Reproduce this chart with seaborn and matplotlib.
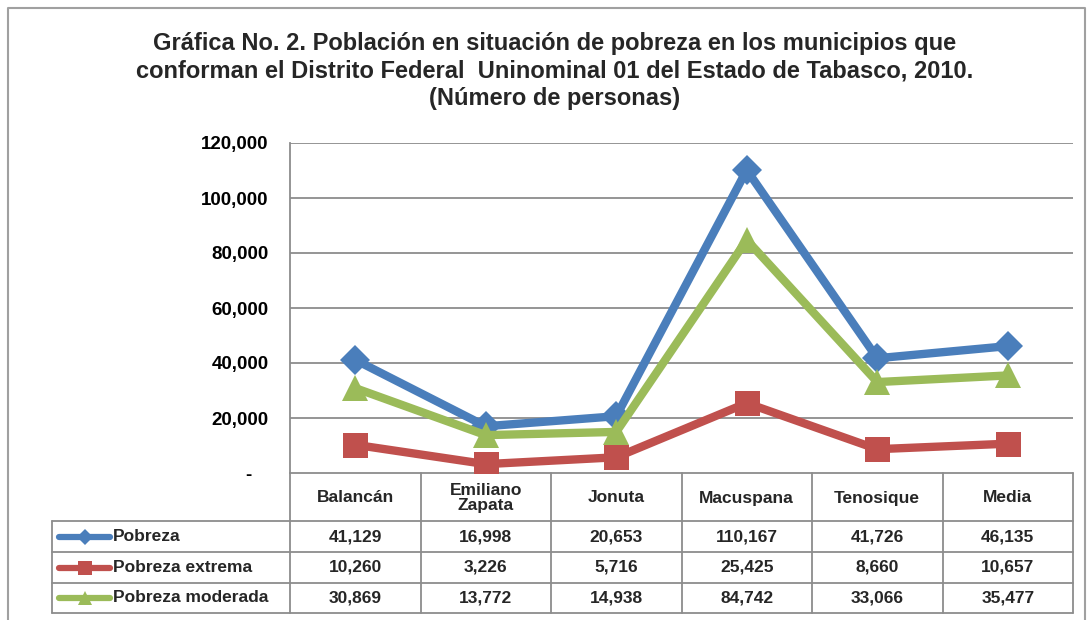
import pandas as pd
import matplotlib
matplotlib.use("Agg")
import matplotlib.pyplot as plt
import seaborn as sns

# Datos
municipios = ["Balancán", "Emiliano\nZapata", "Jonuta", "Macuspana", "Tenosique", "Media"]
series = ["Pobreza", "Pobreza extrema", "Pobreza moderada"]
pobreza = [41129, 16998, 20653, 110167, 41726, 46135]
pobreza_extrema = [10260, 3226, 5716, 25425, 8660, 10657]
pobreza_moderada = [30869, 13772, 14938, 84742, 33066, 35477]
y_ticks = [0, 20000, 40000, 60000, 80000, 100000, 120000]

colores = {"Pobreza": "#4A7EBB", "Pobreza extrema": "#C0504D", "Pobreza moderada": "#9BBB59"}
marcadores = {"Pobreza": "D", "Pobreza extrema": "s", "Pobreza moderada": "^"}
tamanos = {"Pobreza": 15, "Pobreza extrema": 18, "Pobreza moderada": 19}

valores = {"Pobreza": pobreza, "Pobreza extrema": pobreza_extrema, "Pobreza moderada": pobreza_moderada}
df = pd.DataFrame([
    {"pos": i, "municipio": m, "serie": s, "valor": valores[s][i]}
    for s in series for i, m in enumerate(municipios)
])

sns.set_theme(style="white")
plt.rcParams["font.family"] = ["Liberation Sans", "DejaVu Sans"]

W, H = 1089, 620
fig = plt.figure(figsize=(W / 100, H / 100), dpi=100)

# capa de fondo en coordenadas de pixel (marco y tabla)
bg = fig.add_axes([0, 0, 1, 1], zorder=0)
bg.set_xlim(0, W)
bg.set_ylim(H, 0)
bg.axis("off")

L, R, T, B = 290, 1073, 143, 473
ax = fig.add_axes([L / W, (H - B) / H, (R - L) / W, (B - T) / H], zorder=2)
ax.patch.set_alpha(0)

for y in y_ticks[1:]:
    ax.axhline(y, color="#8C8C8C", lw=1.3, zorder=0)

for s in series:
    sub = df[df["serie"] == s]
    sns.lineplot(data=sub, x="pos", y="valor", color=colores[s], lw=6,
                 marker=marcadores[s], markersize=tamanos[s], markeredgewidth=0,
                 ax=ax, legend=False, zorder=3)

ax.set_xlim(-0.5, len(municipios) - 0.5)
ax.set_ylim(0, 120000)
ax.set_yticks(y_ticks)
ax.set_yticklabels(["-   " if v == 0 else f"{v:,}" for v in y_ticks],
                   fontsize=13.5, fontweight="bold", color="black")
ax.tick_params(axis="y", length=0, pad=15.5)
ax.set_xticks([])
ax.set_xlabel("")
ax.set_ylabel("")
for sp in ["top", "right", "bottom"]:
    ax.spines[sp].set_visible(False)
ax.spines["left"].set_color("#8C8C8C")
ax.spines["left"].set_linewidth(1.3)

# marco exterior
bg.plot([8, 8, 1085, 1085], [625, 8, 8, 625], color="#A0A0A0", lw=1.5)

# título
fig.text(555 / W, 1 - 32 / H,
         "Gráfica No. 2. Población en situación de pobreza en los municipios que\n"
         "conforman el Distrito Federal  Uninominal 01 del Estado de Tabasco, 2010.\n"
         "(Número de personas)",
         ha="center", va="top", fontsize=17, fontweight="bold", linespacing=1.25)

# tabla de datos
gris = "#8C8C8C"
col_w = (R - L) / len(municipios)
filas = [B, 521, 552, 583, 613]
legend_left = 52

bg.plot([L, R], [B, B], color=gris, lw=1.3)
for y in filas[1:]:
    bg.plot([legend_left, R], [y, y], color=gris, lw=1.3)
bg.plot([legend_left, legend_left], [filas[1], filas[-1]], color=gris, lw=1.3)
for i in range(len(municipios) + 1):
    x = L + i * col_w
    bg.plot([x, x], [B, filas[-1]], color=gris, lw=1.3)

for i, m in enumerate(municipios):
    cx = L + (i + 0.5) * col_w
    bg.text(cx, (filas[0] + filas[1]) / 2 + 1, m, ha="center", va="center",
            fontsize=12.5, fontweight="bold", linespacing=1.0)

for r, s in enumerate(series):
    cy = (filas[r + 1] + filas[r + 2]) / 2
    bg.plot([59, 110], [cy, cy], color=colores[s], lw=4.5, solid_capstyle="round")
    bg.plot([85], [cy], marker=marcadores[s], color=colores[s],
            markersize=tamanos[s] * 0.55, markeredgewidth=0)
    bg.text(113, cy, s, ha="left", va="center", fontsize=12.5, fontweight="bold")
    for i, v in enumerate(valores[s]):
        bg.text(L + (i + 0.5) * col_w, cy, f"{v:,}", ha="center", va="center",
                fontsize=12.5, fontweight="bold")

fig.savefig("out.png", dpi=100)
